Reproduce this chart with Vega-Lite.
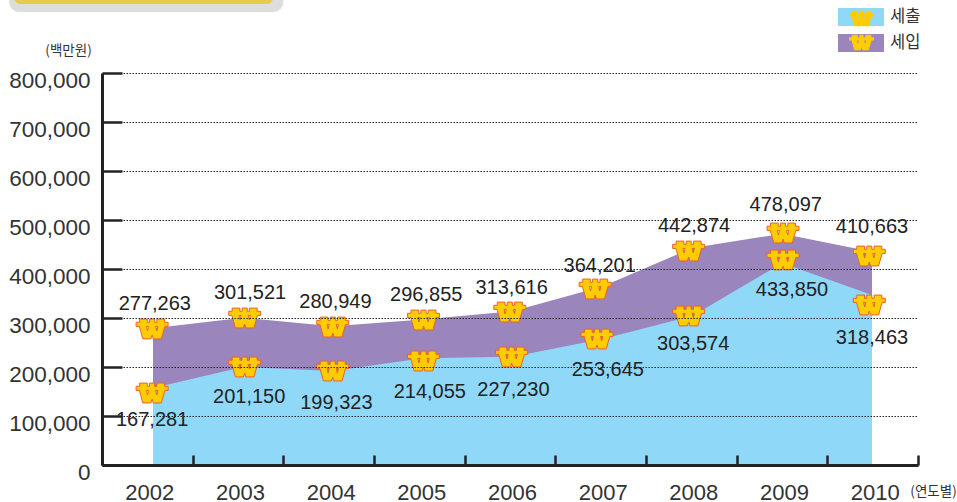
{"$schema":"https://vega.github.io/schema/vega-lite/v6.json","width":816,"height":392,"autosize":{"type":"none"},"padding":{"left":102,"top":73,"right":39,"bottom":37},"background":"white","config":{"view":{"stroke":null},"text":{"font":"Liberation Sans"}},"datasets":{"years":[{"year":"2002"},{"year":"2003"},{"year":"2004"},{"year":"2005"},{"year":"2006"},{"year":"2007"},{"year":"2008"},{"year":"2009"},{"year":"2010"}],"decor":[{"part":"shadow","x1":2000.4,"x2":2003.45,"y1":969000,"y2":924500},{"part":"band","x1":2000.45,"x2":2003.34,"y1":969000,"y2":940800}],"rows":[
{"year":2002,"series":"세입","marker":"세입 기호","value":279000,"mx":2001.99,"my":277600,"lx":2002.02,"ly":328600,"label":"277,263"},
{"year":2003,"series":"세입","marker":"세입 기호","value":300500,"mx":2003.02,"my":300000,"lx":2003.08,"ly":351000,"label":"301,521"},
{"year":2004,"series":"세입","marker":"세입 기호","value":283000,"mx":2004.0,"my":281600,"lx":2004.03,"ly":332700,"label":"280,949"},
{"year":2005,"series":"세입","marker":"세입 기호","value":296855,"mx":2005.01,"my":295900,"lx":2005.04,"ly":346900,"label":"296,855"},
{"year":2006,"series":"세입","marker":"세입 기호","value":313616,"mx":2005.97,"my":312200,"lx":2005.99,"ly":361200,"label":"313,616"},
{"year":2007,"series":"세입","marker":"세입 기호","value":364201,"mx":2006.92,"my":359200,"lx":2006.97,"ly":406100,"label":"364,201"},
{"year":2008,"series":"세입","marker":"세입 기호","value":442874,"mx":2007.96,"my":436700,"lx":2008.02,"ly":487800,"label":"442,874"},
{"year":2009,"series":"세입","marker":"세입 기호","value":472000,"mx":2009.01,"my":473500,"lx":2009.04,"ly":530600,"label":"478,097"},
{"year":2010,"series":"세입","marker":"세입 기호","value":435000,"mx":2009.97,"my":426500,"lx":2010.0,"ly":485700,"label":"410,663"},
{"year":2002,"series":"세출","marker":"세출 기호","value":157000,"mx":2001.99,"my":146900,"lx":2001.99,"ly":91800,"label":"167,281"},
{"year":2003,"series":"세출","marker":"세출 기호","value":200000,"mx":2003.02,"my":200000,"lx":2003.07,"ly":138800,"label":"201,150"},
{"year":2004,"series":"세출","marker":"세출 기호","value":192000,"mx":2004.0,"my":191800,"lx":2004.04,"ly":126500,"label":"199,323"},
{"year":2005,"series":"세출","marker":"세출 기호","value":218000,"mx":2005.01,"my":212200,"lx":2005.08,"ly":149000,"label":"214,055"},
{"year":2006,"series":"세출","marker":"세출 기호","value":221000,"mx":2005.99,"my":220400,"lx":2006.01,"ly":153100,"label":"227,230"},
{"year":2007,"series":"세출","marker":"세출 기호","value":257000,"mx":2006.94,"my":257100,"lx":2007.06,"ly":193900,"label":"253,645"},
{"year":2008,"series":"세출","marker":"세출 기호","value":304000,"mx":2007.96,"my":304100,"lx":2008.01,"ly":246900,"label":"303,574"},
{"year":2009,"series":"세출","marker":"세출 기호","value":412000,"mx":2009.01,"my":418400,"lx":2009.11,"ly":357100,"label":"433,850"},
{"year":2010,"series":"세출","marker":"세출 기호","value":347000,"mx":2009.97,"my":326500,"lx":2010.0,"ly":259200,"label":"318,463"}
]},
"resolve":{"scale":{"x":"independent"}},
"layer":[
{"data":{"name":"years"},"mark":{"type":"rule","opacity":0},"encoding":{"x":{"field":"year","type":"nominal","scale":{"type":"band","paddingInner":0,"paddingOuter":0},"axis":{"orient":"bottom","title":"(연도별)","titleFont":"Noto Sans CJK KR","titleFontSize":13.5,"titleFontWeight":"normal","titleColor":"#333","titleX":831,"titleY":26,"titleAlign":"center","titleBaseline":"middle","labelAngle":0,"labelFont":"Liberation Sans","labelFontSize":22,"labelColor":"#333","labelOffset":2,"labelPadding":27,"tickBand":"extent","tickSize":-10,"tickWidth":2.5,"tickColor":"#222","domainColor":"#222","domainWidth":3,"zindex":1}}}},
{"layer":[
{"data":{"name":"decor"},"transform":[{"filter":"datum.part==='shadow'"}],"mark":{"type":"rect","color":"#dddddd","cornerRadius":10},"encoding":{"x":{"field":"x1","type":"quantitative","scale":{"domain":[2001.4325,2010.5118],"nice":false,"zero":false},"axis":null},"x2":{"field":"x2"},"y":{"field":"y1","type":"quantitative"},"y2":{"field":"y2"}}},
{"data":{"name":"decor"},"transform":[{"filter":"datum.part==='band'"}],"mark":{"type":"rect","color":"#e9c94e","cornerRadius":10},"encoding":{"x":{"field":"x1","type":"quantitative","axis":null},"x2":{"field":"x2"},"y":{"field":"y1","type":"quantitative"},"y2":{"field":"y2"}}},
{"data":{"name":"rows"},"mark":{"type":"area","line":false,"opacity":1},"encoding":{"x":{"field":"year","type":"quantitative","axis":null},"y":{"field":"value","type":"quantitative","stack":null,"scale":{"domain":[0,800000],"nice":false},"axis":{"values":[0,100000,200000,300000,400000,500000,600000,700000,800000],"format":",d","title":"(백만원)","titleFont":"Noto Sans CJK KR","titleFontSize":13.5,"titleFontWeight":"normal","titleColor":"#333","titleAngle":0,"titleX":-34,"titleY":-23,"titleAlign":"center","titleBaseline":"middle","labelFont":"Liberation Sans","labelFontSize":22.5,"labelColor":"#333","labelOffset":7,"labelPadding":32,"tickSize":-20,"tickWidth":2.5,"tickColor":"#222","domainColor":"#222","domainWidth":3,"grid":true,"gridColor":"#222","gridDash":[1.5,1.5],"gridWidth":1,"zindex":1}},"color":{"field":"series","type":"nominal","scale":{"domain":["세출","세입"],"range":["#8FD8F8","#9A86BC"]},"legend":{"orient":"none","legendX":736,"legendY":-65,"padding":0,"title":null,"symbolType":"M-1,-0.39H1V0.39H-1Z","symbolSize":2116,"symbolStrokeWidth":0,"symbolOpacity":1,"clipHeight":18,"rowPadding":8,"labelFont":"Noto Sans CJK KR","labelFontSize":16.5,"labelColor":"#333","labelOffset":6}}}},
{"data":{"name":"rows"},"mark":{"type":"point","filled":true,"opacity":1,"fill":"#FFCC00","stroke":"#E8622C","strokeWidth":1,"size":1024},"encoding":{"x":{"field":"mx","type":"quantitative","axis":null},"y":{"field":"my","type":"quantitative"},"shape":{"field":"marker","type":"nominal","scale":{"domain":["세출 기호","세입 기호"],"range":["M-1,-0.42L-0.78,-0.42L-0.78,-0.62L-0.3,-0.62L-0.3,-0.42L-0.16,-0.42L-0.16,-0.62L0.16,-0.62L0.16,-0.42L0.3,-0.42L0.3,-0.62L0.78,-0.62L0.78,-0.42L1,-0.42L1,-0.16L0.8,-0.16L0.58,0.62L0.08,0.62L0,0.38L-0.08,0.62L-0.58,0.62L-0.8,-0.16L-1,-0.16ZM-0.36,-0.16L-0.29,0.12L-0.22,-0.16ZM0.22,-0.16L0.29,0.12L0.36,-0.16Z","M-1,-0.42L-0.78,-0.42L-0.78,-0.62L-0.3,-0.62L-0.3,-0.42L-0.16,-0.42L-0.16,-0.62L0.16,-0.62L0.16,-0.42L0.3,-0.42L0.3,-0.62L0.78,-0.62L0.78,-0.42L1,-0.42L1,-0.16L0.8,-0.16L0.58,0.62L0.08,0.62L0,0.38L-0.08,0.62L-0.58,0.62L-0.8,-0.16L-1,-0.16ZM-0.36,-0.16L-0.29,0.12L-0.22,-0.16ZM0.22,-0.16L0.29,0.12L0.36,-0.16Z"]},"legend":{"orient":"none","legendX":746.5,"legendY":-67.5,"padding":0,"title":null,"symbolSize":625,"symbolFillColor":"#FFCC00","symbolStrokeColor":"#E8622C","symbolStrokeWidth":1,"symbolOpacity":1,"rowPadding":1,"labelOpacity":0,"labelFontSize":1}}}},
{"data":{"name":"rows"},"mark":{"type":"text","font":"Liberation Sans","fontSize":20,"fill":"#222","align":"center","baseline":"middle"},"encoding":{"x":{"field":"lx","type":"quantitative","axis":null},"y":{"field":"ly","type":"quantitative"},"text":{"field":"label","type":"nominal"}}}
]}
]}
